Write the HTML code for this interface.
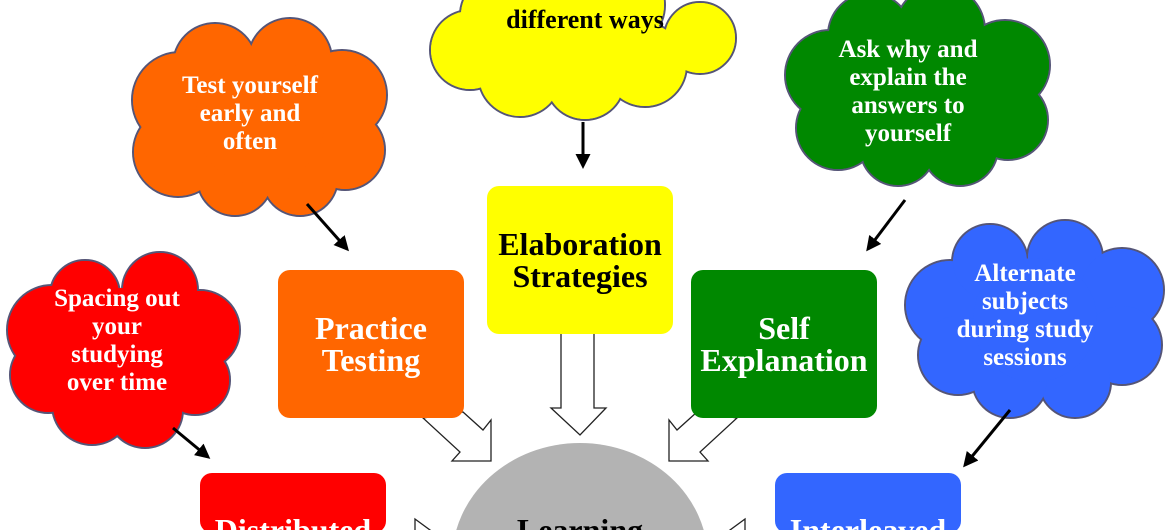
<!DOCTYPE html>
<html><head><meta charset="utf-8"><style>
html,body{margin:0;padding:0;background:#fff;width:1170px;height:530px;overflow:hidden;}
svg{display:block}
text{font-family:"Liberation Serif",serif;font-weight:bold;text-anchor:middle}
.c{font-size:25px;fill:#fff}
.b{font-size:32px;fill:#fff}
</style></head><body>
<svg width="1170" height="530" viewBox="0 0 1170 530" xmlns="http://www.w3.org/2000/svg">
<defs>
<marker id="ah" viewBox="0 0 10 10" refX="8" refY="5" markerWidth="5" markerHeight="5" orient="auto"><path d="M0,0L10,5L0,10z" fill="#000"/></marker>
</defs>
<rect width="1170" height="530" fill="#fff"/>
<g stroke="#557" stroke-width="2" fill="#ff0">
<circle cx="470" cy="50" r="40"/><circle cx="520" cy="75" r="42"/><circle cx="585" cy="80" r="40"/><circle cx="645" cy="65" r="42"/><circle cx="700" cy="38" r="36"/><circle cx="500" cy="15" r="40"/><circle cx="620" cy="5" r="45"/><circle cx="560" cy="5" r="45"/>
</g>
<g fill="#ff0"><circle cx="470" cy="50" r="39"/><circle cx="520" cy="75" r="41"/><circle cx="585" cy="80" r="39"/><circle cx="645" cy="65" r="41"/><circle cx="700" cy="38" r="35"/><circle cx="500" cy="15" r="39"/><circle cx="620" cy="5" r="44"/><circle cx="560" cy="5" r="44"/><circle cx="585" cy="40" r="60"/></g>

<g stroke="#557" stroke-width="2" fill="#f60">
<circle cx="180" cy="100" r="48"/><circle cx="215" cy="65" r="42"/><circle cx="290" cy="60" r="42"/><circle cx="342" cy="95" r="45"/><circle cx="345" cy="150" r="40"/><circle cx="300" cy="178" r="38"/><circle cx="235" cy="178" r="38"/><circle cx="178" cy="152" r="45"/>
</g>
<g fill="#f60"><circle cx="180" cy="100" r="47"/><circle cx="215" cy="65" r="41"/><circle cx="290" cy="60" r="41"/><circle cx="342" cy="95" r="44"/><circle cx="345" cy="150" r="39"/><circle cx="300" cy="178" r="37"/><circle cx="235" cy="178" r="37"/><circle cx="178" cy="152" r="44"/><circle cx="260" cy="120" r="65"/></g>

<g stroke="#557" stroke-width="2" fill="#080">
<circle cx="830" cy="75" r="45"/><circle cx="870" cy="35" r="42"/><circle cx="940" cy="30" r="45"/><circle cx="1005" cy="65" r="45"/><circle cx="1008" cy="120" r="40"/><circle cx="960" cy="148" r="38"/><circle cx="898" cy="148" r="38"/><circle cx="838" cy="128" r="42"/>
</g>
<g fill="#080"><circle cx="830" cy="75" r="44"/><circle cx="870" cy="35" r="41"/><circle cx="940" cy="30" r="44"/><circle cx="1005" cy="65" r="44"/><circle cx="1008" cy="120" r="39"/><circle cx="960" cy="148" r="37"/><circle cx="898" cy="148" r="37"/><circle cx="838" cy="128" r="41"/><circle cx="920" cy="90" r="65"/></g>

<g stroke="#557" stroke-width="2" fill="#f00">
<circle cx="52" cy="330" r="45"/><circle cx="85" cy="295" r="35"/><circle cx="160" cy="290" r="38"/><circle cx="200" cy="330" r="40"/><circle cx="195" cy="380" r="35"/><circle cx="145" cy="410" r="38"/><circle cx="92" cy="405" r="40"/><circle cx="48" cy="375" r="38"/>
</g>
<g fill="#f00"><circle cx="52" cy="330" r="44"/><circle cx="85" cy="295" r="34"/><circle cx="160" cy="290" r="37"/><circle cx="200" cy="330" r="39"/><circle cx="195" cy="380" r="34"/><circle cx="145" cy="410" r="37"/><circle cx="92" cy="405" r="39"/><circle cx="48" cy="375" r="37"/><circle cx="122" cy="350" r="62"/></g>

<g stroke="#557" stroke-width="2" fill="#36f">
<circle cx="950" cy="305" r="45"/><circle cx="990" cy="262" r="38"/><circle cx="1065" cy="258" r="38"/><circle cx="1122" cy="290" r="42"/><circle cx="1122" cy="345" r="40"/><circle cx="1075" cy="382" r="36"/><circle cx="1010" cy="380" r="38"/><circle cx="958" cy="355" r="40"/>
</g>
<g fill="#36f"><circle cx="950" cy="305" r="44"/><circle cx="990" cy="262" r="37"/><circle cx="1065" cy="258" r="37"/><circle cx="1122" cy="290" r="41"/><circle cx="1122" cy="345" r="39"/><circle cx="1075" cy="382" r="35"/><circle cx="1010" cy="380" r="37"/><circle cx="958" cy="355" r="39"/><circle cx="1035" cy="320" r="62"/></g>

<text x="585" y="28" style="font-size:26px;fill:#000">different ways</text>
<text class="c" x="250" y="93">Test yourself</text><text class="c" x="250" y="121">early and</text><text class="c" x="250" y="149">often</text>
<text class="c" x="908" y="57">Ask why and</text><text class="c" x="908" y="85">explain the</text><text class="c" x="908" y="113">answers to</text><text class="c" x="908" y="141">yourself</text>
<text class="c" x="117" y="306">Spacing out</text><text class="c" x="117" y="334">your</text><text class="c" x="117" y="362">studying</text><text class="c" x="117" y="390">over time</text>
<text class="c" x="1025" y="281">Alternate</text><text class="c" x="1025" y="309">subjects</text><text class="c" x="1025" y="337">during study</text><text class="c" x="1025" y="365">sessions</text>

<g stroke="#000" stroke-width="3" marker-end="url(#ah)">
<line x1="583" y1="122" x2="583" y2="166"/>
<line x1="307" y1="204" x2="347" y2="249"/>
<line x1="905" y1="200" x2="868" y2="249"/>
<line x1="173" y1="428" x2="208" y2="457"/>
<line x1="1010" y1="410" x2="965" y2="465"/>
</g>

<g fill="#fff" stroke="#222" stroke-width="1.3">
<path d="M561,330 L594,330 L594,408 L606,408 L580,435 L551,408 L561,408 Z"/>
<path d="M463,412 L483,430 L491,420 L491,461 L452,461 L460,452 L423,418 Z"/>
<path d="M697,412 L677,430 L669,420 L669,461 L708,461 L700,452 L737,418 Z"/>
<path d="M415,519 L430,530 L415,541 Z"/>
<path d="M745,519 L730,530 L745,541 Z"/>
</g>

<rect x="487" y="186" width="186" height="148" rx="12" fill="#ff0"/>
<rect x="278" y="270" width="186" height="148" rx="12" fill="#f60"/>
<rect x="691" y="270" width="186" height="148" rx="12" fill="#080"/>
<rect x="200" y="473" width="186" height="60" rx="12" fill="#f00"/>
<rect x="775" y="473" width="186" height="60" rx="12" fill="#36f"/>
<text class="b" x="580" y="255" style="fill:#000">Elaboration</text><text class="b" x="580" y="287" style="fill:#000">Strategies</text>
<text class="b" x="371" y="339">Practice</text><text class="b" x="371" y="371">Testing</text>
<text class="b" x="784" y="339">Self</text><text class="b" x="784" y="371">Explanation</text>
<text class="b" x="293" y="541">Distributed</text>
<text class="b" x="868" y="541">Interleaved</text>

<ellipse cx="580" cy="560" rx="128" ry="117" fill="#b3b3b3"/>
<text class="b" x="580" y="541" style="fill:#000">Learning</text>
</svg>
</body></html>
